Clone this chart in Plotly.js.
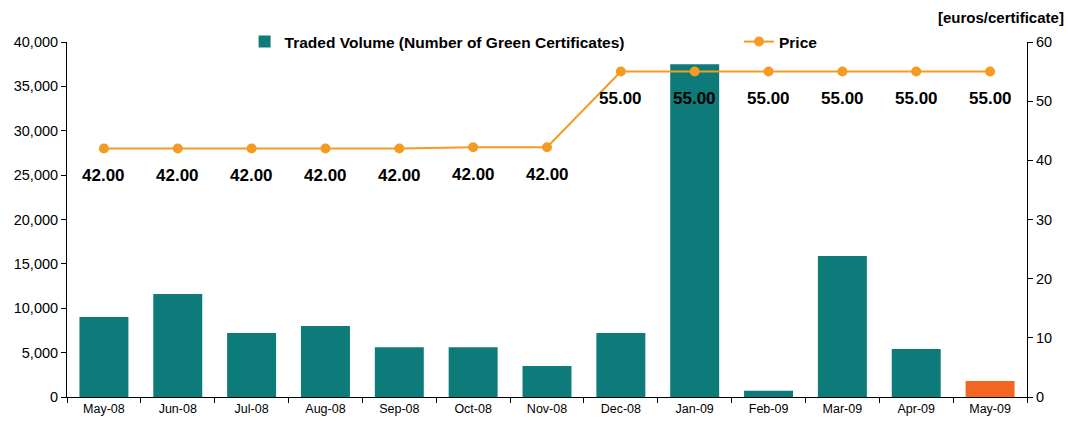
<!DOCTYPE html>
<html><head><meta charset="utf-8">
<script src="https://cdn.plot.ly/plotly-3.0.1.min.js"></script>
<style>html,body{margin:0;padding:0;background:#fff}#chart{width:1068px;height:421px}</style>
</head><body><div id="chart"></div>
<script>
const months = ["May-08","Jun-08","Jul-08","Aug-08","Sep-08","Oct-08","Nov-08","Dec-08","Jan-09","Feb-09","Mar-09","Apr-09","May-09"];
const volume = [9000,11600,7200,8000,5600,5600,3500,7200,37500,700,15900,5400,1800];
const price = [42,42,42,42,42,42.2,42.2,55,55,55,55,55,55];
const priceLabels = ["42.00","42.00","42.00","42.00","42.00","42.00","42.00","55.00","55.00","55.00","55.00","55.00","55.00"];

const teal = "#0E7B7B", orange = "#F26522", priceCol = "#F59A23";
const barColors = months.map((m,i)=> i===months.length-1 ? orange : teal);

const font = "Liberation Sans, Arial, sans-serif";

const traces = [
  {type:"bar", x:months, y:volume, name:"<b>Traded Volume (Number of Green Certificates)</b>",
   marker:{color:barColors}, yaxis:"y", hoverinfo:"skip", legend:"legend"},
  {type:"scatter", mode:"lines+markers", x:months, y:price, name:"<b>Price</b>",
   line:{color:priceCol, width:2}, marker:{color:priceCol, size:10}, yaxis:"y2", hoverinfo:"skip", legend:"legend2"}
];

const annotations = months.map((m,i)=>({
  x:m, y:price[i], xref:"x", yref:"y2", text:"<b>"+priceLabels[i]+"</b>",
  showarrow:false, yshift:-27, font:{family:font, size:17, color:"#000"}
}));
annotations.push({xref:"paper", yref:"paper", x:1.0405, y:1.0, xanchor:"right", yanchor:"bottom", yshift:14,
  text:"<b>[euros/certificate]</b>", showarrow:false, font:{family:font, size:15, color:"#000"}});

const legFont = {family:font, size:15.5, color:"#000"};
const layout = {
  width:1068, height:421,
  margin:{l:67, r:41, t:42, b:24, autoexpand:false},
  paper_bgcolor:"#fff", plot_bgcolor:"#fff",
  font:{family:font, color:"#000"},
  bargap:0.337,
  showlegend:true,
  legend:{orientation:"h", x:0.185, y:1.0, xanchor:"left", yanchor:"middle", font:legFont, bgcolor:"rgba(0,0,0,0)"},
  legend2:{orientation:"h", x:0.70, y:1.0, xanchor:"left", yanchor:"middle", font:legFont, bgcolor:"rgba(0,0,0,0)"},
  xaxis:{type:"category", range:[-0.5, months.length-0.5], showline:true, linecolor:"#000", linewidth:1, ticks:"outside", tickson:"boundaries",
    ticklen:5, tickcolor:"#000", tickfont:{family:font, size:12.5}, showgrid:false, zeroline:false},
  yaxis:{range:[0,40000], dtick:5000, tickformat:",d", showline:true, linecolor:"#000", linewidth:1,
    ticks:"outside", ticklen:5, tickcolor:"#000", tickfont:{family:font, size:14.5}, showgrid:false, zeroline:false},
  yaxis2:{range:[0,60], dtick:10, overlaying:"y", side:"right", showline:true, linecolor:"#000", linewidth:1,
    ticks:"outside", ticklen:5, tickcolor:"#000", tickfont:{family:font, size:14.5}, showgrid:false, zeroline:false},
  annotations:annotations
};
Plotly.newPlot("chart", traces, layout, {displayModeBar:false, staticPlot:true});
</script></body></html>
